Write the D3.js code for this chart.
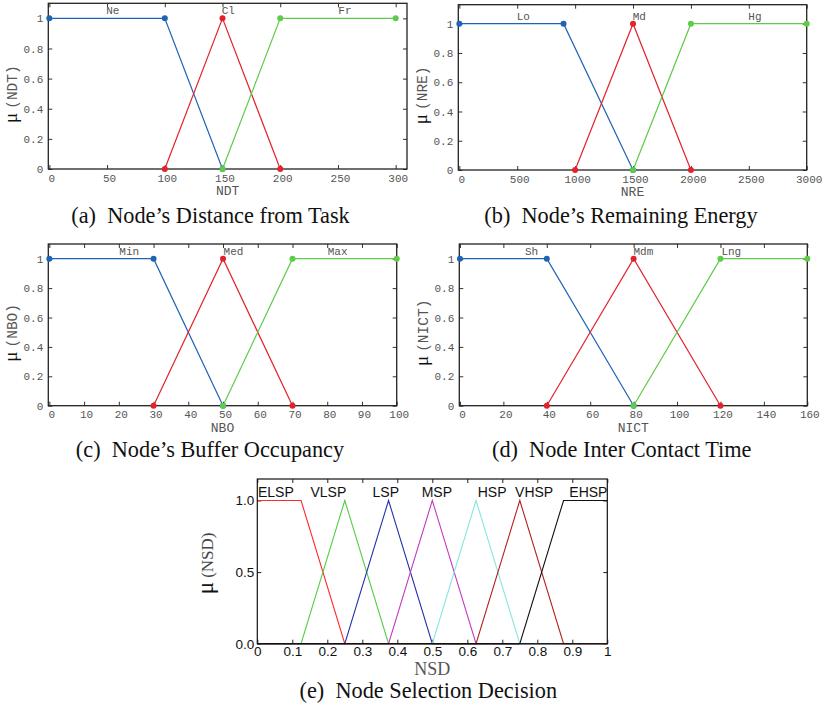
<!DOCTYPE html>
<html>
<head>
<meta charset="utf-8">
<script src="https://cdn.jsdelivr.net/npm/d3@7"></script>
<style>
  body { margin: 0; background: #fff; }
  svg { display: block; }
</style>
</head>
<body>
<svg id="chart" width="826" height="709"></svg>
<script>
// membership sets, one small array per thing
const ndtNames = ["Ne", "Cl", "Fr"];
const ndtX = [[0, 100, 150], [100, 150, 200], [150, 200, 300]];
const ndtY = [[1, 1, 0], [0, 1, 0], [0, 1, 1]];
const ndtLabelX = [55, 155, 256];
const ndtTicks = [0, 50, 100, 150, 200, 250, 300];

const nreNames = ["Lo", "Md", "Hg"];
const nreX = [[0, 900, 1500], [1000, 1500, 2000], [1500, 2000, 3000]];
const nreY = [[1, 1, 0], [0, 1, 0], [0, 1, 1]];
const nreLabelX = [553, 1554, 2553];
const nreTicks = [0, 500, 1000, 1500, 2000, 2500, 3000];

const nboNames = ["Min", "Med", "Max"];
const nboX = [[0, 30, 50], [30, 50, 70], [50, 70, 100]];
const nboY = [[1, 1, 0], [0, 1, 0], [0, 1, 1]];
const nboLabelX = [23, 53, 83];
const nboTicks = [0, 10, 20, 30, 40, 50, 60, 70, 80, 90, 100];

const nictNames = ["Sh", "Mdm", "Lng"];
const nictX = [[0, 40, 80], [40, 80, 120], [80, 120, 160]];
const nictY = [[1, 1, 0], [0, 1, 0], [0, 1, 1]];
const nictLabelX = [33, 84.5, 125];
const nictTicks = [0, 20, 40, 60, 80, 100, 120, 140, 160];

const muTicks = [0, 0.2, 0.4, 0.6, 0.8, 1];

const nsdNames = ["ELSP", "VLSP", "LSP", "MSP", "HSP", "VHSP", "EHSP"];
const nsdX = [
  [0, 0.125, 0.25, 1],
  [0, 0.125, 0.25, 0.375, 1],
  [0, 0.25, 0.375, 0.5, 1],
  [0, 0.375, 0.5, 0.625, 1],
  [0, 0.5, 0.625, 0.75, 1],
  [0, 0.625, 0.75, 0.875, 1],
  [0, 0.75, 0.875, 1]
];
const nsdY = [
  [1, 1, 0, 0],
  [0, 0, 1, 0, 0],
  [0, 0, 1, 0, 0],
  [0, 0, 1, 0, 0],
  [0, 0, 1, 0, 0],
  [0, 0, 1, 0, 0],
  [0, 0, 1, 1]
];
const nsdLabelX = [0.053, 0.203, 0.367, 0.513, 0.671, 0.791, 0.946];
const nsdTicks = [0, 0.1, 0.2, 0.3, 0.4, 0.5, 0.6, 0.7, 0.8, 0.9, 1];
const nsdYTicks = [0, 0.5, 1];

const captions = [
  "(a)  Node\u2019s Distance from Task",
  "(b)  Node\u2019s Remaining Energy",
  "(c)  Node\u2019s Buffer Occupancy",
  "(d)  Node Inter Contact Time",
  "(e)  Node Selection Decision"
];

const svg = d3.select("#chart");
const mono = "'Liberation Mono', 'Courier New', monospace";
const serif = "'Liberation Serif', 'Times New Roman', serif";
const sans = "'Liberation Sans', Arial, sans-serif";
const setColors = ["#1f63b4", "#e3222b", "#5dcc48"];

// draw one of the small gnuplot style panels
let drawSmall = (box, xDomain, yMax, xs, ys, names, labelX, xTicks, varName) => {
  let x = d3.scaleLinear().domain(xDomain).range([box.left, box.right]);
  let y = d3.scaleLinear().domain([0, yMax]).range([box.bottom, box.top]);
  let g = svg.append("g");

  let styleAxis = sel => {
    sel.select(".domain").remove();
    sel.selectAll(".tick line").attr("stroke", "#333").attr("stroke-width", 1);
    sel.selectAll("text").attr("font-family", mono).attr("font-size", 11).attr("fill", "#555");
  };

  g.append("g").attr("transform", "translate(0," + box.bottom + ")")
    .call(d3.axisBottom(x).tickValues(xTicks).tickSize(-4).tickPadding(5).tickFormat(d3.format("d")))
    .call(styleAxis)
    .selectAll("text").attr("dx", 2);
  g.append("g").attr("transform", "translate(0," + box.top + ")")
    .call(d3.axisTop(x).tickValues(xTicks).tickSize(-4).tickFormat(""))
    .call(styleAxis);
  g.append("g").attr("transform", "translate(" + box.left + ",0)")
    .call(d3.axisLeft(y).tickValues(muTicks).tickSize(-4).tickPadding(5)
      .tickFormat(d => (d === 0 || d === 1) ? d : d.toFixed(1)))
    .call(styleAxis);
  g.append("g").attr("transform", "translate(" + box.right + ",0)")
    .call(d3.axisRight(y).tickValues(muTicks).tickSize(-4).tickFormat(""))
    .call(styleAxis);

  g.append("rect")
    .attr("x", box.left).attr("y", box.top)
    .attr("width", box.right - box.left).attr("height", box.bottom - box.top)
    .attr("fill", "none").attr("stroke", "#222").attr("stroke-width", 1.3);

  let line = d3.line().x(d => x(d[0])).y(d => y(d[1]));
  xs.forEach((xv, i) => {
    let pts = xv.map((v, j) => [v, ys[i][j]]);
    g.append("path").datum(pts).attr("d", line)
      .attr("fill", "none").attr("stroke", setColors[i]).attr("stroke-width", 1.2);
    g.selectAll(null).data(pts).enter().append("circle")
      .attr("cx", d => x(d[0])).attr("cy", d => y(d[1])).attr("r", 3)
      .attr("fill", setColors[i]);
    g.append("text").attr("x", x(labelX[i])).attr("y", y(1) - 4)
      .attr("text-anchor", "middle").attr("font-family", mono).attr("font-size", 11)
      .attr("fill", "#555").text(names[i]);
  });

  g.append("text").attr("x", (box.left + box.right) / 2).attr("y", box.bottom + 26)
    .attr("text-anchor", "middle").attr("font-family", mono).attr("font-size", 13)
    .attr("fill", "#555").text(varName);

  let yl = g.append("text")
    .attr("transform", "translate(" + (box.left - 31) + "," + ((box.top + box.bottom) / 2 + 8) + ") rotate(-90)")
    .attr("text-anchor", "middle");
  yl.append("tspan").attr("font-family", serif).attr("font-size", 19).attr("fill", "#111").text("\u03bc");
  yl.append("tspan").attr("font-family", mono).attr("font-size", 14.5).attr("fill", "#555")
    .attr("dx", 4).text("(" + varName + ")");
};

drawSmall({left: 48.3, right: 407, top: 3.3, bottom: 169}, [-0.9, 309.8], 1.1,
  ndtX, ndtY, ndtNames, ndtLabelX, ndtTicks, "NDT");
drawSmall({left: 458.3, right: 806.7, top: 4.7, bottom: 170}, [-9, 3000], 1.13,
  nreX, nreY, nreNames, nreLabelX, nreTicks, "NRE");
drawSmall({left: 48.3, right: 396.7, top: 244, bottom: 405.7}, [-0.3, 100], 1.1,
  nboX, nboY, nboNames, nboLabelX, nboTicks, "NBO");
drawSmall({left: 459.3, right: 807.3, top: 244, bottom: 405.7}, [-0.3, 160], 1.1,
  nictX, nictY, nictNames, nictLabelX, nictTicks, "NICT");

// panel (e), matlab style
let drawNsd = () => {
  let box = {left: 257.3, right: 607.3, top: 479, bottom: 643.7};
  let x = d3.scaleLinear().domain([0, 1]).range([box.left, box.right]);
  let y = d3.scaleLinear().domain([0, 1.15]).range([box.bottom, box.top]);
  let g = svg.append("g");
  let colors = ["#ff2a2a", "#55cc44", "#2233a8", "#c23cc2", "#86e6e2", "#b52020", "#111111"];

  let styleAxis = sel => {
    sel.select(".domain").remove();
    sel.selectAll(".tick line").attr("stroke", "#222").attr("stroke-width", 1);
    sel.selectAll("text").attr("font-family", sans).attr("font-size", 13.5).attr("fill", "#111");
  };
  g.append("g").attr("transform", "translate(0," + box.bottom + ")")
    .call(d3.axisBottom(x).tickValues(nsdTicks).tickSize(-4).tickPadding(3)
      .tickFormat(d => (d === 0 || d === 1) ? d : d.toFixed(1)))
    .call(styleAxis);
  g.append("g").attr("transform", "translate(0," + box.top + ")")
    .call(d3.axisTop(x).tickValues(nsdTicks).tickSize(-4).tickFormat(""))
    .call(styleAxis);
  g.append("g").attr("transform", "translate(" + box.left + ",0)")
    .call(d3.axisLeft(y).tickValues(nsdYTicks).tickSize(-4).tickPadding(3)
      .tickFormat(d3.format(".1f")))
    .call(styleAxis);
  g.append("g").attr("transform", "translate(" + box.right + ",0)")
    .call(d3.axisRight(y).tickValues(nsdYTicks).tickSize(-4).tickFormat(""))
    .call(styleAxis);

  let line = d3.line().x(d => x(d[0])).y(d => y(d[1]));
  nsdX.forEach((xv, i) => {
    let pts = xv.map((v, j) => [v, nsdY[i][j]]);
    g.append("path").datum(pts).attr("d", line)
      .attr("fill", "none").attr("stroke", colors[i]).attr("stroke-width", 1.1);
    g.append("text").attr("x", x(nsdLabelX[i])).attr("y", y(1) - 3)
      .attr("text-anchor", "middle").attr("font-family", sans).attr("font-size", 14)
      .attr("fill", "#111").text(nsdNames[i]);
  });

  g.append("rect")
    .attr("x", box.left).attr("y", box.top)
    .attr("width", box.right - box.left).attr("height", box.bottom - box.top)
    .attr("fill", "none").attr("stroke", "#111").attr("stroke-width", 1.2);

  g.append("text").attr("x", (box.left + box.right) / 2).attr("y", box.bottom + 31)
    .attr("text-anchor", "middle").attr("font-family", serif).attr("font-size", 18)
    .attr("fill", "#555").text("NSD");

  let yl = g.append("text")
    .attr("transform", "translate(" + (box.left - 44) + "," + ((box.top + box.bottom) / 2 + 2) + ") rotate(-90)")
    .attr("text-anchor", "middle");
  yl.append("tspan").attr("font-family", serif).attr("font-size", 23).attr("fill", "#111").text("\u03bc");
  yl.append("tspan").attr("font-family", serif).attr("font-size", 17).attr("fill", "#444")
    .attr("dx", 4).text("(NSD)");
};
drawNsd();

// sub captions
const capPos = [[210.5, 223], [621, 223], [210, 457], [621.7, 457], [428.3, 698]];
svg.selectAll(".cap").data(captions).enter().append("text")
  .attr("class", "cap")
  .attr("x", (d, i) => capPos[i][0]).attr("y", (d, i) => capPos[i][1])
  .attr("text-anchor", "middle").attr("font-family", serif).attr("font-size", 22.3)
  .attr("fill", "#111").style("white-space", "pre").text(d => d);
</script>
</body>
</html>
